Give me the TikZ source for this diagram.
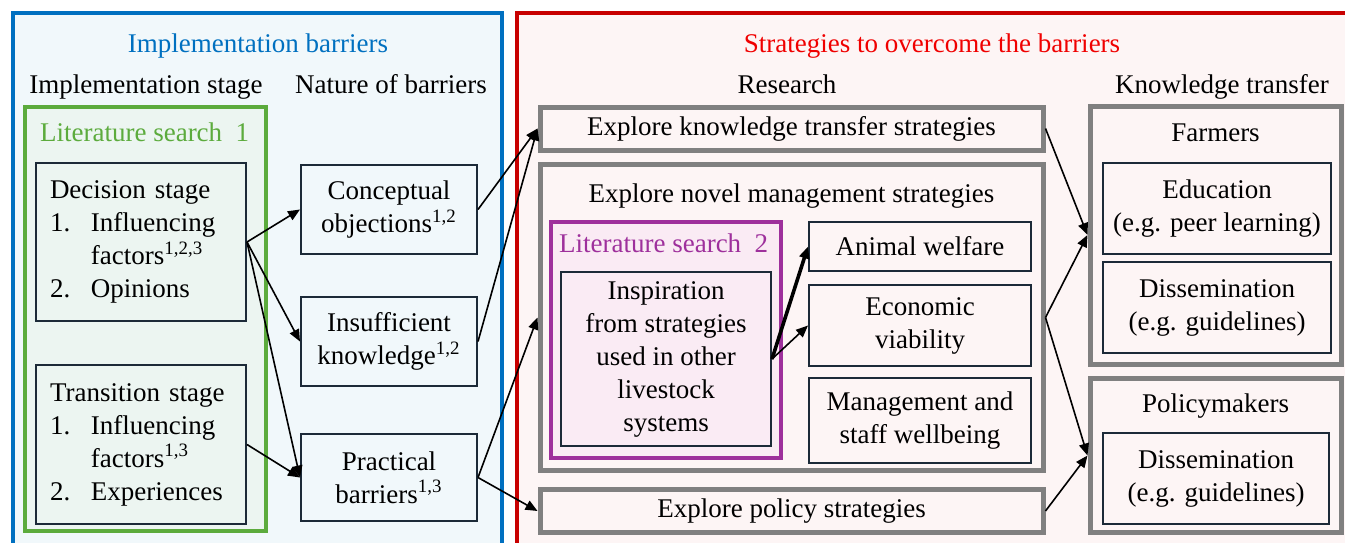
\documentclass[tikz,border=0pt]{standalone}
\usepackage{fontspec}
\setmainfont{Liberation Serif}
\usepackage{tikz}
\usetikzlibrary{arrows.meta}

\definecolor{implblue}{RGB}{0,112,192}
\definecolor{implfill}{RGB}{241,248,251}
\definecolor{stratred}{RGB}{200,0,0}
\definecolor{titlered}{RGB}{240,0,0}
\definecolor{stratfill}{RGB}{253,245,245}
\definecolor{litgreen}{RGB}{92,171,61}
\definecolor{litgreenfill}{RGB}{236,245,241}
\definecolor{litpurple}{RGB}{158,48,156}
\definecolor{litpurplefill}{RGB}{250,235,244}
\definecolor{boxline}{RGB}{28,42,56}
\definecolor{groupgray}{RGB}{128,128,128}

\newcommand{\stagenum}[1]{\makebox[20.5pt][l]{#1}}

\begin{document}
\begin{tikzpicture}[
		x=0.5pt, y=-0.5pt
		,font=\fontsize{13.5}{16.5}\selectfont
		,>={Triangle[length=6pt,width=5pt]}
		,sz/.style 2 args={minimum width=#1, minimum height=#2}
		,panel/.style={draw, line width=2pt}
		,litbox/.style={draw, line width=2pt}
		,group/.style={draw=groupgray, line width=2.5pt, fill=stratfill}
		,b/.style={draw=boxline, line width=1pt, align=center}
		,hd/.style={anchor=base}
		,conn/.style={->, line width=0.8pt}
	]
		\useasboundingbox (0,0) rectangle (1345,542);
		\clip (0,0) rectangle (1345,542);

		% the two panels
		\node[panel, draw=implblue, fill=implfill, sz={244.5pt}{293.5pt}] (impl) at (257.5,306.5) {};
		\node[panel, draw=stratred, fill=stratfill, sz={441.5pt}{293.5pt}] (strat) at (958.5,306.5) {};
		\node[hd, text=implblue] (implT) at (258,52) {Implementation barriers};
		\node[hd, text=titlered] (stratT) at (932,52) {Strategies to overcome the barriers};
		\node[hd] (stageH) at (146,93) {Implementation stage};
		\node[hd] (natureH) at (391,93) {Nature of barriers};
		\node[hd] (researchH) at (787,93) {Research};
		\node[hd] (ktH) at (1222,93) {Knowledge transfer};

		% implementation stage
		\node[litbox, draw=litgreen, fill=litgreenfill, sz={120.5pt}{212pt}] (lit1) at (145.5,319) {};
		\node[hd, anchor=base west, text=litgreen] (lit1T) at (33,141) {Literature search~~1};
		\node[b, fill=litgreenfill, align=left, text width=91pt, inner xsep=7pt, minimum height=79pt] (dec) at (141,242) {Decision stage\\
			\stagenum{1.}Influencing\\
			\hspace*{20.5pt}factors\textsuperscript{1,2,3}\\
			\stagenum{2.}Opinions};
		\node[b, fill=litgreenfill, align=left, text width=91pt, inner xsep=7pt, minimum height=79.5pt] (tra) at (141,444.5) {Transition stage\\
			\stagenum{1.}Influencing\\
			\hspace*{20.5pt}factors\textsuperscript{1,3}\\
			\stagenum{2.}Experiences};

		% nature of barriers
		\node[b, fill=implfill, sz={88pt}{44.5pt}] (con) at (389,209.5) {Conceptual\\objections\textsuperscript{1,2}};
		\node[b, fill=implfill, sz={88pt}{44.5pt}] (ins) at (389,341.5) {Insufficient\\knowledge\textsuperscript{1,2}};
		\node[b, fill=implfill, sz={88pt}{43.5pt}] (pra) at (389,477.5) {Practical\\barriers\textsuperscript{1,3}};

		% research
		\node[group, sz={251.5pt}{21.5pt}] (kt) at (791.5,128.5) {Explore knowledge transfer strategies};
		\node[group, sz={251.5pt}{153pt}] (nov) at (791.5,317.5) {};
		\node[hd] (novT) at (791.5,202) {Explore novel management strategies};
		\node[group, sz={251.5pt}{21.5pt}] (pol) at (791.5,511) {Explore policy strategies};
		\node[litbox, draw=litpurple, fill=litpurplefill, sz={115pt}{118pt}] (lit2) at (666,340) {};
		\node[hd, anchor=base west, text=litpurple] (lit2T) at (552,252) {Literature search~~2};
		\node[b, fill=litpurplefill, sz={105pt}{87pt}] (insp) at (666,359) {Inspiration\\from strategies\\used in other\\livestock\\systems};
		\node[b, fill=stratfill, sz={111pt}{24.5pt}] (wel) at (920,246.5) {Animal welfare};
		\node[b, fill=stratfill, sz={111pt}{40.5pt}] (eco) at (920,325.5) {Economic\\viability};
		\node[b, fill=stratfill, sz={111pt}{42.5pt}] (man) at (920,420.5) {Management and\\staff wellbeing};

		% knowledge transfer
		\node[group, sz={125.5pt}{129pt}] (far) at (1215.5,235) {};
		\node[hd] (farT) at (1215.5,141) {Farmers};
		\node[b, fill=stratfill, sz={114pt}{45.5pt}] (edu) at (1217,208.5) {Education\\(e.g. peer learning)};
		\node[b, fill=stratfill, sz={114pt}{45.5pt}] (dis1) at (1217,307.5) {Dissemination\\(e.g. guidelines)};
		\node[group, sz={125.5pt}{77pt}] (pmk) at (1215.5,455.5) {};
		\node[hd] (pmkT) at (1215.5,412) {Policymakers};
		\node[b, fill=stratfill, sz={113pt}{45.5pt}] (dis2) at (1216,478.5) {Dissemination\\(e.g. guidelines)};

		% connections
		\path[conn] (dec.east) edge (con.west);
		\path[conn] (dec.east) edge (ins.west);
		\path[conn] (dec.east) edge (pra.west);
		\path[conn] (tra.east) edge (pra.west);
		\path[conn] (con.east) edge (kt.west);
		\path[conn] (ins.east) edge (kt.west);
		\path[conn] (pra.east) edge (nov.west);
		\path[conn] (pra.east) edge (pol.west);
		\path[conn, line width=1.8pt] (insp.east) edge (wel.west);
		\path[conn] (insp.east) edge (eco.west);
		\path[conn] (kt.east) edge (far.west);
		\path[conn] (nov.east) edge (far.west);
		\path[conn] (nov.east) edge (pmk.west);
		\path[conn] (pol.east) edge (pmk.west);
	\end{tikzpicture}
\end{document}
